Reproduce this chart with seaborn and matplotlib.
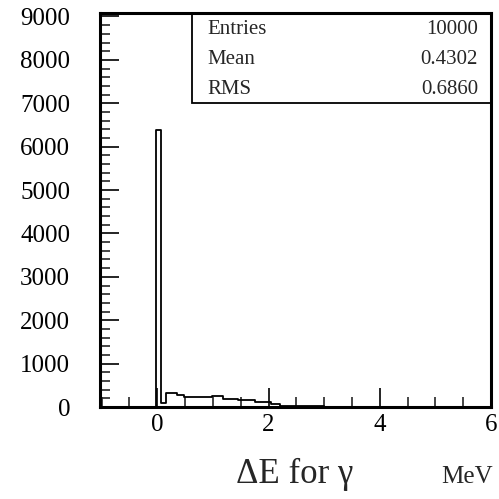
import numpy as np
import pandas as pd
import matplotlib
matplotlib.use("Agg")
import matplotlib.pyplot as plt
from matplotlib.patches import Rectangle
from matplotlib.ticker import MultipleLocator
import seaborn as sns

# Histogram data
bin_edges = [-0.03, 0.07, 0.16, 0.36, 0.48, 0.99, 1.19, 1.45, 1.75, 2.05, 2.2, 3.0]
counts = [6380, 100, 315, 280, 230, 250, 195, 155, 115, 75, 22]

stat_labels = ["Entries", "Mean", "RMS"]
stat_values = ["10000", "0.4302", "0.6860"]

xlabel = "ΔE for γ"
unit_label = "MeV"
x_major = [0, 2, 4, 6]
y_major = [0, 1000, 2000, 3000, 4000, 5000, 6000, 7000, 8000, 9000]

sns.set_style("ticks")
plt.rcParams["font.family"] = ["Liberation Serif", "DejaVu Serif"]

# pad with empty bins at both ends so the outline closes down to zero
edges_p = [bin_edges[0] - 0.05] + bin_edges + [bin_edges[-1] + 0.05]
counts_p = [0] + counts + [0]
centers = [(edges_p[i] + edges_p[i + 1]) / 2 for i in range(len(counts_p))]
df = pd.DataFrame({"x": centers, "w": counts_p})

fig = plt.figure(figsize=(4.99, 4.99), dpi=100)
ax = fig.add_axes([100 / 499, 92 / 499, 391 / 499, 394 / 499])

sns.histplot(data=df, x="x", weights="w", bins=edges_p, element="step",
             fill=False, color="black", linewidth=1.3, ax=ax)

ax.set_xlim(-1.03, 6)
ax.set_ylim(0, 9080)
ax.set_xticks(x_major)
ax.set_yticks(y_major)
ax.xaxis.set_minor_locator(MultipleLocator(0.5))
ax.yaxis.set_minor_locator(MultipleLocator(200))
ax.tick_params(axis="both", which="major", direction="in", length=14, width=1.2,
               labelsize=18, colors="black")
ax.tick_params(axis="both", which="minor", direction="in", length=7, width=1.2)
ax.tick_params(axis="y", which="both", pad=21.5)
ax.tick_params(axis="x", which="both", pad=5)
ax.set_xlabel("")
ax.set_ylabel("")
for s in ax.spines.values():
    s.set_linewidth(2.2)
    s.set_color("black")
    s.set_visible(True)

# Stats box
ax.add_patch(Rectangle(((191.7 - 100) / 391, (407 - 103) / 394), 1 - (191.7 - 100) / 391,
                       103 / 394, transform=ax.transAxes,
                       fill=False, edgecolor="black", linewidth=1.3, zorder=5))
rows_y = [29, 60, 89]
for lab, val, yy in zip(stat_labels, stat_values, rows_y):
    ya = (407 - yy) / 394
    ax.text((207 - 100) / 391, ya, lab, transform=ax.transAxes, ha="left",
            va="center", fontsize=15)
    ax.text((478 - 100) / 391, ya, val, transform=ax.transAxes, ha="right",
            va="center", fontsize=15)

fig.text(295 / 499, 1 - 483 / 499, xlabel, ha="center", va="baseline", fontsize=25)
fig.text(467 / 499, 1 - 483 / 499, unit_label, ha="center", va="baseline", fontsize=18)

fig.savefig("out.png", dpi=100)
